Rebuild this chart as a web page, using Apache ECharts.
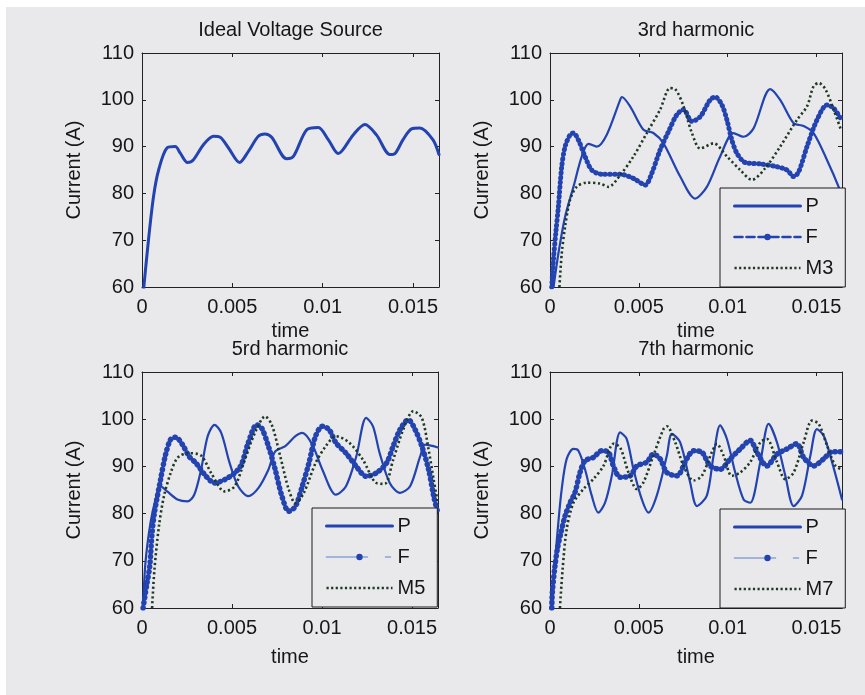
<!DOCTYPE html>
<html>
<head>
<meta charset="utf-8">
<script src="https://cdn.jsdelivr.net/npm/echarts@6.0.0/dist/echarts.min.js"></script>
<style>
  html, body { margin: 0; padding: 0; background: #ffffff; }
  #chart { width: 865px; height: 695px; }
</style>
</head>
<body>
<div id="chart"></div>
<script>
// ---------------- DATA ----------------
const panelTitles = ['Ideal Voltage Source', '3rd harmonic', '5rd harmonic', '7th harmonic'];
const xTicks = [0, 0.005, 0.01, 0.015];
const yTicks = [60, 70, 80, 90, 100, 110];
const xMax = 0.01644;

// Panel 1 : Ideal voltage source
const ivsT = [0.00005, 0.00036, 0.00064, 0.00092, 0.00138, 0.00184, 0.00212, 0.00252, 0.00285, 0.0034, 0.00396, 0.00433, 0.00479, 0.0054, 0.00589, 0.00644, 0.00681, 0.00718, 0.008, 0.00838, 0.00912, 0.00976, 0.01031, 0.01086, 0.01169, 0.01234, 0.01298, 0.01372, 0.014, 0.01445, 0.01492, 0.01538, 0.0161, 0.01644];
const ivsV = [58, 70.1, 79.4, 85, 89.7, 90, 88.6, 86.6, 87.2, 90.4, 92.2, 92.0, 89.7, 86.6, 89, 92.2, 92.7, 92.0, 87.4, 87.9, 93.6, 94.1, 91.5, 88.5, 92.5, 94.7, 92.5, 88.3, 88.5, 91.5, 93.8, 94.0, 91.5, 88.3];

// Panel 2 : 3rd harmonic
const h3PT = [0.0002, 0.00047, 0.00085, 0.00132, 0.00179, 0.00216, 0.00263, 0.00319, 0.00395, 0.00404, 0.00451, 0.00526, 0.00582, 0.00639, 0.00733, 0.00817, 0.00883, 0.00958, 0.01033, 0.0109, 0.01146, 0.0124, 0.01296, 0.01372, 0.01428, 0.01484, 0.0156, 0.01625, 0.01644];
const h3PV = [60, 67.1, 75, 81.4, 87.9, 90.6, 90, 92.5, 100, 100.6, 98.6, 93.6, 92.9, 90.7, 83.6, 78.9, 81.4, 87.9, 92.9, 92.1, 93.9, 102.3, 100, 95, 94.4, 92.9, 87.1, 81.4, 79];
const h3FT = [0.0001, 0.00019, 0.00034, 0.00047, 0.00066, 0.00085, 0.00113, 0.00132, 0.0016, 0.00197, 0.00235, 0.00291, 0.00395, 0.0047, 0.00536, 0.00573, 0.0062, 0.00667, 0.00714, 0.00752, 0.00799, 0.00846, 0.00902, 0.0093, 0.00968, 0.00996, 0.01024, 0.01052, 0.01099, 0.01184, 0.01278, 0.01334, 0.01372, 0.014, 0.01447, 0.01503, 0.0156, 0.01597, 0.01638];
const h3FV = [60, 65.7, 72.1, 77.1, 85.7, 90, 92.5, 92.9, 91.4, 87.9, 85, 84.1, 84.1, 83.2, 81.8, 84.3, 89.3, 93.2, 96.8, 97.9, 95.4, 96.4, 100, 100.6, 98.9, 95.7, 91.4, 88.6, 86.6, 86.3, 85.7, 85, 83.6, 84.6, 90, 95.7, 98.9, 98.2, 95.9];
const h3MT = [0.00053, 0.00066, 0.00085, 0.00113, 0.0015, 0.00207, 0.00282, 0.00329, 0.00395, 0.0047, 0.00545, 0.0062, 0.00676, 0.00705, 0.00752, 0.00799, 0.00846, 0.00921, 0.00996, 0.01071, 0.01137, 0.01212, 0.01296, 0.0139, 0.01447, 0.01484, 0.01513, 0.0155, 0.01597, 0.01638];
const h3MV = [60, 67.1, 72.9, 78.6, 81.4, 82.3, 82.1, 81.4, 83.9, 87.9, 92.9, 97.9, 102.5, 102.3, 98.6, 92.9, 89.6, 90.7, 87.9, 85, 82.9, 85.4, 90, 95.7, 98.6, 102.9, 103.6, 102.3, 97.9, 93.6];

// Panel 3 : 5th harmonic
const h5PT = [0.00006, 0.00019, 0.00047, 0.00075, 0.00103, 0.0014, 0.00197, 0.00253, 0.0029, 0.00328, 0.00365, 0.00403, 0.0044, 0.00487, 0.00534, 0.0059, 0.00646, 0.00702, 0.0074, 0.00796, 0.00852, 0.0089, 0.00946, 0.01002, 0.01077, 0.01133, 0.0119, 0.01245, 0.01283, 0.0132, 0.01376, 0.01433, 0.01489, 0.01545, 0.01573, 0.01644];
const h5PV = [60, 69.5, 78, 83, 85.8, 84.7, 83, 82.6, 84, 89.3, 96.4, 98.8, 97.1, 90.7, 85.8, 83.7, 85.4, 89.3, 93.2, 94.3, 96.4, 97.1, 94.6, 89.3, 84, 85.8, 92.1, 100.3, 98.5, 92.8, 86.5, 84.4, 85.8, 92.1, 94.6, 94];
const h5FT = [0.00006, 0.00028, 0.00043, 0.00056, 0.00069, 0.00103, 0.00131, 0.00159, 0.00187, 0.00225, 0.00262, 0.003, 0.00356, 0.00403, 0.00459, 0.00515, 0.00552, 0.0059, 0.00637, 0.00665, 0.00702, 0.0074, 0.00777, 0.00815, 0.00852, 0.0089, 0.00927, 0.00964, 0.01002, 0.01039, 0.01077, 0.01133, 0.0119, 0.01245, 0.01301, 0.01358, 0.01395, 0.01433, 0.01479, 0.01517, 0.01554, 0.01592, 0.0162, 0.01644];
const h5FV = [60, 65.3, 68.8, 75.9, 80.1, 87.2, 92.5, 95.7, 96.2, 94.6, 92.1, 90.7, 87.9, 86.5, 87.2, 88.6, 90.4, 95, 98.8, 98.1, 94.3, 89.3, 83.7, 80.5, 81.5, 85.8, 90.7, 96.4, 98.5, 97.8, 95, 92.8, 90, 87.9, 88.6, 90.7, 94.3, 97.8, 99.9, 97.8, 94.3, 89.3, 83.7, 80];
const h5MT = [0.00056, 0.00069, 0.00094, 0.00122, 0.00159, 0.00197, 0.00253, 0.00328, 0.00384, 0.00459, 0.00515, 0.00571, 0.00627, 0.00684, 0.00721, 0.00768, 0.00815, 0.00852, 0.00899, 0.00964, 0.01021, 0.01077, 0.01152, 0.01227, 0.01301, 0.01348, 0.01395, 0.01451, 0.01507, 0.01554, 0.01592, 0.0162, 0.01644];
const h5MV = [60, 68.1, 77.3, 83.7, 88.6, 91.8, 92.8, 92.3, 88.6, 84.7, 85.8, 91.4, 97.1, 100.6, 98.8, 92.1, 85.1, 82.2, 84.4, 90.7, 94.3, 96.4, 95, 91.4, 86.5, 86.3, 91.4, 97.8, 101.7, 100.3, 93.5, 87.2, 82];

// Panel 4 : 7th harmonic
const h7PT = [0.0001, 0.00028, 0.00047, 0.00066, 0.00094, 0.00132, 0.0016, 0.00197, 0.00235, 0.00272, 0.0031, 0.00348, 0.00395, 0.00432, 0.0047, 0.00517, 0.00554, 0.00601, 0.00658, 0.00686, 0.00733, 0.00789, 0.00827, 0.00883, 0.00921, 0.00958, 0.00996, 0.01043, 0.0109, 0.01127, 0.01184, 0.01231, 0.01278, 0.01325, 0.01372, 0.01419, 0.01466, 0.01503, 0.01541, 0.01588, 0.01644];
const h7PV = [60, 69.6, 78.1, 85.2, 91.6, 93.7, 93.3, 89.4, 83.8, 80.2, 82.3, 88, 97.2, 95.8, 89.4, 83, 80.2, 83.8, 92.3, 96.9, 95.1, 86.6, 81.6, 83.8, 92.3, 98.7, 95.8, 88.7, 83, 82.3, 90.9, 99, 95.1, 88, 81.6, 83.8, 92.3, 97.9, 96.5, 90.9, 83];
const h7FT = [0.0001, 0.00013, 0.00028, 0.00043, 0.00062, 0.00085, 0.00113, 0.00141, 0.00169, 0.00197, 0.00244, 0.00291, 0.00329, 0.00357, 0.00395, 0.00451, 0.00489, 0.00545, 0.00582, 0.0062, 0.00658, 0.00714, 0.0077, 0.00808, 0.00855, 0.00902, 0.00958, 0.01015, 0.01071, 0.01127, 0.01165, 0.01221, 0.01278, 0.01334, 0.0139, 0.01428, 0.01484, 0.01541, 0.01588, 0.01644];
const h7FV = [60, 63.2, 68.9, 72.8, 76, 79.5, 82.3, 84.5, 88.7, 91.2, 91.9, 93.3, 93, 90.1, 87.7, 88, 90.1, 90.9, 92.6, 91.6, 88.7, 88, 91.6, 93.3, 93, 90.1, 89.4, 91.6, 93.7, 95.5, 93, 90.1, 92.6, 93.7, 94.8, 91.9, 90.1, 91.6, 93.1, 93.1];
const h7MT = [0.00056, 0.00071, 0.00094, 0.00132, 0.00188, 0.00244, 0.00301, 0.00357, 0.00395, 0.00442, 0.00489, 0.00526, 0.00582, 0.00639, 0.00658, 0.00705, 0.00752, 0.00808, 0.00855, 0.00911, 0.0094, 0.00977, 0.01024, 0.01071, 0.01127, 0.01184, 0.01221, 0.01278, 0.01325, 0.01372, 0.01428, 0.01475, 0.01513, 0.0156, 0.01607, 0.01644];
const h7MV = [60, 68.2, 76.7, 82.3, 85.2, 87.3, 90.1, 94.8, 94, 88.7, 85.2, 86.6, 92.3, 97.9, 98.5, 95.1, 90.1, 87, 88, 93, 94.8, 92.3, 88, 88.7, 90.9, 95.1, 95.8, 90.9, 87.3, 88.7, 95.1, 99.7, 99, 94.4, 90.1, 89.4];

// ---------------- STYLE / LAYOUT ----------------
const FONT = "'Liberation Sans', Arial, Helvetica, sans-serif";
const TXT = '#161616';
const BLUE = '#2243b0';
const GREEN = '#1e3a24';
const BG = '#e9e9eb';

const grids = [
  { left: 142, top: 53, width: 297, height: 234 },
  { left: 550, top: 53, width: 292, height: 234 },
  { left: 142, top: 372, width: 296, height: 236 },
  { left: 550, top: 372, width: 292, height: 236 }
];

function pairs(t, v) { return t.map((x, i) => [x, v[i]]); }

const xAxes = [], yAxes = [];
grids.forEach((g, i) => {
  const topRow = i < 2;
  xAxes.push({
    type: 'value', gridIndex: i, min: 0, max: xMax, interval: 0.005,
    name: 'time', nameLocation: 'middle', nameGap: topRow ? 34 : 39,
    nameTextStyle: { fontSize: 20, color: TXT, fontFamily: FONT },
    axisLine: { show: true, lineStyle: { color: '#222', width: 1 } },
    axisTick: { show: true, inside: true, length: 4, lineStyle: { color: '#222' } },
    axisLabel: { fontSize: 20, color: TXT, fontFamily: FONT, margin: 10, showMaxLabel: false,
      formatter: v => xTicks.some(k => Math.abs(k - v) < 1e-9) ? String(v) : '' },
    splitLine: { show: false }
  });
  xAxes.push({
    type: 'value', gridIndex: i, min: 0, max: xMax, interval: 0.005, position: 'top',
    axisLine: { show: true, onZero: false, lineStyle: { color: '#222', width: 1 } },
    axisTick: { show: true, inside: true, length: 4, lineStyle: { color: '#222' } },
    axisLabel: { show: false }, splitLine: { show: false }
  });
  yAxes.push({
    type: 'value', gridIndex: i, min: 60, max: 110, interval: 10,
    name: 'Current (A)', nameLocation: 'middle', nameGap: 58, nameRotate: 90,
    nameTextStyle: { fontSize: 20, color: TXT, fontFamily: FONT },
    axisLine: { show: true, onZero: false, lineStyle: { color: '#222', width: 1 } },
    axisTick: { show: true, inside: true, length: 4, lineStyle: { color: '#222' } },
    axisLabel: { fontSize: 20, color: TXT, fontFamily: FONT, margin: 8,
      formatter: v => yTicks.includes(v) ? String(v) : '' },
    splitLine: { show: false }
  });
  yAxes.push({
    type: 'value', gridIndex: i, min: 60, max: 110, interval: 10, position: 'right',
    axisLine: { show: true, onZero: false, lineStyle: { color: '#222', width: 1 } },
    axisTick: { show: true, inside: true, length: 4, lineStyle: { color: '#222' } },
    axisLabel: { show: false }, splitLine: { show: false }
  });
});

function lineSeries(name, gi, t, v, lineStyle, z) {
  return {
    name: name, type: 'line', xAxisIndex: gi * 2, yAxisIndex: gi * 2,
    data: pairs(t, v), smooth: 0.3, symbol: 'none', clip: true,
    lineStyle: Object.assign({ cap: 'round', join: 'round' }, lineStyle),
    z: z || 2, animation: false, silent: true
  };
}

const solidP = w => ({ color: BLUE, width: w, type: 'solid' });
const beadF = w => ({ color: BLUE, width: w, type: [0.5, w * 0.85], cap: 'round' });
const dotM = { color: GREEN, width: 2.6, type: [2.2, 2.6], cap: 'butt' };

const series = [
  lineSeries('IVS', 0, ivsT, ivsV, solidP(3)),
  lineSeries('P', 1, h3PT, h3PV, solidP(2.2)),
  lineSeries('F', 1, h3FT, h3FV, beadF(5)),
  lineSeries('M3', 1, h3MT, h3MV, dotM),
  lineSeries('P|5', 2, h5PT, h5PV, solidP(2.2)),
  lineSeries('F|5', 2, h5FT, h5FV, beadF(5.5)),
  lineSeries('M5', 2, h5MT, h5MV, dotM),
  lineSeries('P|7', 3, h7PT, h7PV, solidP(2.2)),
  lineSeries('F|7', 3, h7FT, h7FV, beadF(5.5)),
  lineSeries('M7', 3, h7MT, h7MV, dotM)
];

const hidden = { opacity: 0 };
function legendBox(left, top, names, fStyle) {
  return {
    orient: 'vertical', left: left, top: top,
    padding: [8, 12, 9, 13], itemGap: 11, itemWidth: 66, itemHeight: 8,
    backgroundColor: BG, borderColor: '#1a1a1a', borderWidth: 1, borderRadius: 0,
    selectedMode: false, z: 10,
    textStyle: { fontSize: 20, lineHeight: 20, color: TXT, fontFamily: FONT },
    formatter: n => n.split('|')[0],
    data: [
      { name: names[0], lineStyle: { color: BLUE, width: 3, type: 'solid' }, itemStyle: hidden },
      { name: names[1], lineStyle: fStyle, itemStyle: { color: BLUE, opacity: 1 } },
      { name: names[2], lineStyle: { color: GREEN, width: 2.4, type: [2.2, 2.4] }, itemStyle: hidden }
    ]
  };
}

const legends = [
  legendBox(720, 188, ['P', 'F', 'M3'], { color: BLUE, width: 2.6, type: [8, 4] }),
  legendBox(312, 508, ['P|5', 'F|5', 'M5'], { color: '#89a3da', width: 1.5, type: [41, 18, 5, 40] }),
  legendBox(720, 509, ['P|7', 'F|7', 'M7'], { color: '#89a3da', width: 1.5, type: [41, 18, 5, 40] })
];

const titleCenters = grids.map(g => g.left + g.width / 2);
const titles = panelTitles.map((txt, i) => ({
  text: txt, left: titleCenters[i], textAlign: 'center',
  top: i < 2 ? 20 : 339, padding: 0,
  textStyle: { fontSize: 20, fontWeight: 'normal', color: TXT, fontFamily: FONT }
}));

const chart = echarts.init(document.getElementById('chart'), null, { renderer: 'canvas' });
chart.setOption({
  animation: false,
  backgroundColor: '#ffffff',
  graphic: [{ type: 'rect', shape: { x: 6, y: 7, width: 859, height: 688 }, style: { fill: BG }, z: -10, silent: true }],
  title: titles,
  grid: grids.map(g => Object.assign({ containLabel: false }, g)),
  xAxis: xAxes,
  yAxis: yAxes,
  legend: legends,
  series: series
});
</script>
</body>
</html>
